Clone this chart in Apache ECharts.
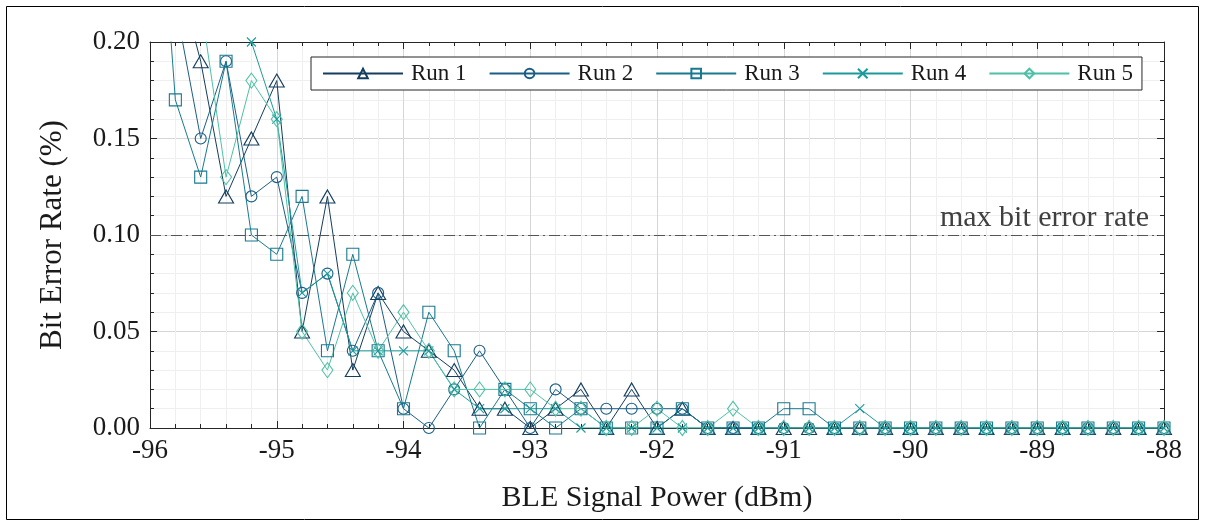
<!DOCTYPE html>
<html>
<head>
<meta charset="utf-8">
<script src="https://cdn.jsdelivr.net/npm/echarts@6/dist/echarts.min.js"></script>
<style>
  html, body { margin: 0; padding: 0; background: #fff; }
  #chart { width: 1206px; height: 526px; }
</style>
</head>
<body>
<div id="chart"></div>
<script>
// Signal power sweep (dBm), one sample every 0.2 dBm
const powerDbm = [
  -96.0, -95.8, -95.6, -95.4, -95.2, -95.0, -94.8, -94.6, -94.4, -94.2,
  -94.0, -93.8, -93.6, -93.4, -93.2, -93.0, -92.8, -92.6, -92.4, -92.2,
  -92.0, -91.8, -91.6, -91.4, -91.2, -91.0, -90.8, -90.6, -90.4, -90.2,
  -90.0, -89.8, -89.6, -89.4, -89.2, -89.0, -88.8, -88.6, -88.4, -88.2,
  -88.0
];

// Bit error rate (%) for each run
const run1 = [
  0.30, 0.24, 0.19, 0.12, 0.15, 0.18, 0.05, 0.12, 0.03, 0.07,
  0.05, 0.04, 0.03, 0.01, 0.01, 0.00, 0.01, 0.02, 0.00, 0.02,
  0.00, 0.01, 0, 0, 0, 0, 0, 0, 0, 0,
  0, 0, 0, 0, 0, 0, 0, 0, 0, 0,
  0
];
const run2 = [
  0.30, 0.22, 0.15, 0.19, 0.12, 0.13, 0.07, 0.08, 0.04, 0.07,
  0.01, 0.00, 0.02, 0.04, 0.02, 0.00, 0.02, 0.01, 0.01, 0.01,
  0.01, 0.01, 0, 0, 0, 0, 0, 0, 0, 0,
  0, 0, 0, 0, 0, 0, 0, 0, 0, 0,
  0
];
const run3 = [
  0.35, 0.17, 0.13, 0.19, 0.10, 0.09, 0.12, 0.04, 0.09, 0.04,
  0.01, 0.06, 0.04, 0.00, 0.02, 0.01, 0.00, 0.01, 0.00, 0.00,
  0.00, 0.01, 0, 0, 0, 0.01, 0.01, 0, 0, 0,
  0, 0, 0, 0, 0, 0, 0, 0, 0, 0,
  0
];
const run4 = [
  0.40, 0.35, 0.30, 0.25, 0.20, 0.16, 0.07, 0.08, 0.04, 0.04,
  0.04, 0.04, 0.02, 0.01, 0.01, 0.01, 0.01, 0.00, 0.00, 0.00,
  0.00, 0.00, 0, 0, 0, 0, 0, 0, 0.01, 0,
  0, 0, 0, 0, 0, 0, 0, 0, 0, 0,
  0
];
const run5 = [
  0.30, 0.26, 0.22, 0.13, 0.18, 0.16, 0.05, 0.03, 0.07, 0.04,
  0.06, 0.04, 0.02, 0.02, 0.02, 0.02, 0.01, 0.01, 0.00, 0.00,
  0.01, 0.00, 0, 0.01, 0, 0, 0, 0, 0, 0,
  0, 0, 0, 0, 0, 0, 0, 0, 0, 0,
  0
];

const runNames = ['Run 1', 'Run 2', 'Run 3', 'Run 4', 'Run 5'];
const runValues = [run1, run2, run3, run4, run5];
const maxBer = 0.10;
const maxBerLabel = 'max bit error rate';

const FONT = '"Liberation Serif", "DejaVu Serif", serif';
const colors = ['#143d5e', '#1b5e85', '#18798f', '#1c9a9b', '#4fc0a6'];
const crossPath = 'path://M0,0L10,10M10,0L0,10';
const symbols = ['triangle', 'circle', 'rect', crossPath, 'diamond'];
const symbolSizes = [[15, 13], 11, 12, 9, [11, 15]];

const chart = echarts.init(document.getElementById('chart'), null, { renderer: 'canvas' });

const series = runNames.map((name, i) => ({
  name: name,
  type: 'line',
  data: powerDbm.map((x, k) => [x, runValues[i][k]]),
  symbol: symbols[i],
  symbolSize: symbolSizes[i],
  showAllSymbol: true,
  clip: true,
  z: 3,
  lineStyle: { color: colors[i], width: 1 },
  itemStyle: { color: 'rgba(0,0,0,0)', borderColor: colors[i], borderWidth: 1.1 },
  emphasis: { disabled: true },
  animation: false,
  markLine: i === 0 ? {
    silent: true,
    symbol: 'none',
    animation: false,
    lineStyle: { color: '#555', width: 1, type: [11, 4, 2, 4] },
    label: {
      show: true,
      position: 'insideEndTop',
      formatter: maxBerLabel,
      fontFamily: FONT,
      fontSize: 30,
      color: '#404040',
      distance: [15, 2]
    },
    data: [{ yAxis: maxBer }]
  } : undefined
}));

const axisLineStyle = { color: '#262626', width: 1 };

const xBase = {
  type: 'value',
  min: -96,
  max: -88,
  interval: 1,
  axisLine: { show: true, onZero: false, lineStyle: axisLineStyle },
  axisTick: { show: true, inside: true, length: 7, lineStyle: axisLineStyle },
  minorTick: { show: true, splitNumber: 5, length: 4, lineStyle: axisLineStyle }
};
const yBase = {
  type: 'value',
  min: 0,
  max: 0.2,
  interval: 0.05,
  axisLine: { show: true, onZero: false, lineStyle: axisLineStyle },
  axisTick: { show: true, inside: true, length: 7, lineStyle: axisLineStyle },
  minorTick: { show: true, splitNumber: 5, length: 4, lineStyle: axisLineStyle }
};

chart.setOption({
  backgroundColor: '#fff',
  animation: false,
  textStyle: { fontFamily: FONT },
  color: colors,
  grid: { left: 150, right: 42, top: 42, bottom: 98, containLabel: false },
  graphic: [{
    type: 'rect',
    shape: { x: 6.5, y: 6.5, width: 1192, height: 513 },
    style: { fill: 'none', stroke: '#000', lineWidth: 1 },
    silent: true
  }],
  legend: {
    show: true,
    data: runNames,
    left: 311,
    top: 57,
    orient: 'horizontal',
    itemWidth: 80,
    itemHeight: 12,
    itemGap: 22,
    padding: [5, 9, 5, 11],
    borderColor: '#262626',
    borderWidth: 1,
    backgroundColor: '#fff',
    selectedMode: false,
    textStyle: { fontFamily: FONT, fontSize: 23, color: '#1a1a1a', padding: [0, 0, 0, 3] }
  },
  xAxis: [
    Object.assign({}, xBase, {
      position: 'bottom',
      name: 'BLE Signal Power (dBm)',
      nameLocation: 'middle',
      nameGap: 55,
      nameTextStyle: { fontFamily: FONT, fontSize: 30, color: '#1a1a1a' },
      axisLabel: { show: true, margin: 9, fontFamily: FONT, fontSize: 27, color: '#1a1a1a' },
      splitLine: { show: true, lineStyle: { color: '#d6d6d6', width: 1 } },
      minorSplitLine: { show: true, lineStyle: { color: '#efefef', width: 1 } }
    }),
    Object.assign({}, xBase, {
      position: 'top',
      axisLabel: { show: false },
      splitLine: { show: false }
    })
  ],
  yAxis: [
    Object.assign({}, yBase, {
      position: 'left',
      name: 'Bit Error Rate (%)',
      nameLocation: 'middle',
      nameGap: 82,
      nameTextStyle: { fontFamily: FONT, fontSize: 31, color: '#1a1a1a' },
      axisLabel: {
        show: true, margin: 10, fontFamily: FONT, fontSize: 27, color: '#1a1a1a',
        formatter: v => v.toFixed(2)
      },
      splitLine: { show: true, lineStyle: { color: '#d6d6d6', width: 1 } },
      minorSplitLine: { show: true, lineStyle: { color: '#efefef', width: 1 } }
    }),
    Object.assign({}, yBase, {
      position: 'right',
      axisLabel: { show: false },
      splitLine: { show: false }
    })
  ],
  series: series
});
</script>
</body>
</html>
